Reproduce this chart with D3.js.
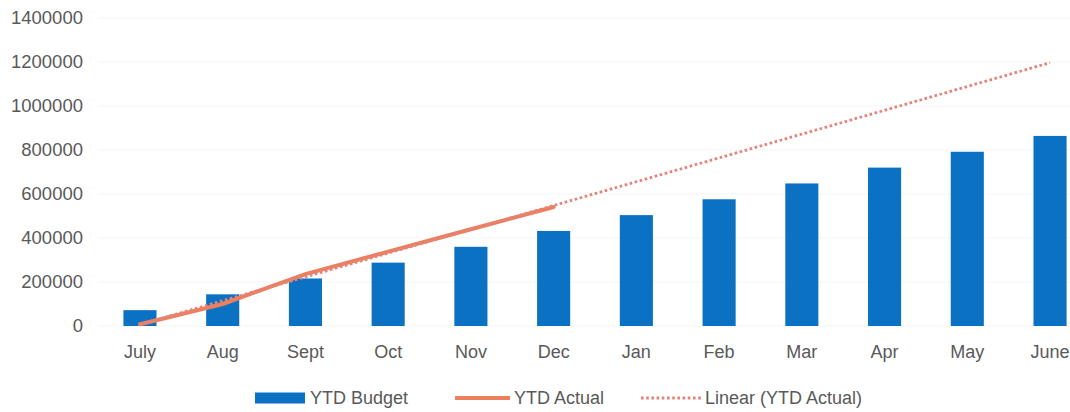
<!DOCTYPE html>
<html>
<head>
<meta charset="utf-8">
<script src="https://cdn.jsdelivr.net/npm/d3@7"></script>
<style>
  html, body { margin: 0; padding: 0; background: #ffffff; }
  svg { display: block; }
  text { font-family: "Liberation Sans", Arial, sans-serif; fill: #595959; }
</style>
</head>
<body>
<svg id="chart" width="1070" height="412"></svg>
<script>
// Month categories (financial year July–June)
const months = ["July", "Aug", "Sept", "Oct", "Nov", "Dec", "Jan", "Feb", "Mar", "Apr", "May", "June"];

// Cumulative budget for each month
const ytdBudget = [72000, 144000, 216000, 288000, 360000, 432000, 504000, 576000, 648000, 720000, 792000, 864000];

// Cumulative actuals recorded so far (July–Dec)
const ytdActual = [8000, 100000, 236000, 338000, 440000, 541000];

// Value axis ticks
const yTicks = [0, 200000, 400000, 600000, 800000, 1000000, 1200000, 1400000];

const legendLabels = ["YTD Budget", "YTD Actual", "Linear (YTD Actual)"];

const colors = { budget: "#0a71c3", actual: "#eb7f5e", trend: "#e5837a" };

const svg = d3.select("#chart");

const x = d3.scaleBand()
  .domain(months)
  .range([98.6, 1091.4])
  .paddingInner(0.6)
  .paddingOuter(0.3);

const y = d3.scaleLinear()
  .domain([0, 1400000])
  .range([326, 18]);

const cx = m => x(m) + x.bandwidth() / 2;

// Horizontal gridlines (very faint)
svg.append("g")
  .selectAll("line")
  .data(yTicks)
  .join("line")
  .attr("x1", 98)
  .attr("x2", 1070)
  .attr("y1", d => y(d))
  .attr("y2", d => y(d))
  .attr("stroke", "#f5f5f5")
  .attr("stroke-width", 1);

// Value axis labels
const yAxis = d3.axisLeft(y).tickValues(yTicks).tickSize(0).tickPadding(0).tickFormat(d3.format("d"));
svg.append("g")
  .attr("transform", "translate(83,0)")
  .call(yAxis)
  .call(g => g.select(".domain").remove())
  .call(g => g.selectAll("text")
    .attr("font-family", "Liberation Sans, Arial, sans-serif")
    .attr("font-size", 18.5)
    .attr("fill", "#595959"));

// Category axis labels
const xAxis = d3.axisBottom(x).tickSize(0).tickPadding(0);
svg.append("g")
  .attr("transform", "translate(0,345)")
  .call(xAxis)
  .call(g => g.select(".domain").remove())
  .call(g => g.selectAll("text")
    .attr("font-family", "Liberation Sans, Arial, sans-serif")
    .attr("font-size", 18)
    .attr("fill", "#595959"));

// Budget bars
svg.append("g")
  .selectAll("rect")
  .data(months.map((m, i) => ({ m, v: ytdBudget[i] })))
  .join("rect")
  .attr("x", d => x(d.m))
  .attr("width", x.bandwidth())
  .attr("y", d => y(d.v))
  .attr("height", d => y(0) - y(d.v))
  .attr("fill", colors.budget);

// Actual line
const actualPts = ytdActual.map((v, i) => [cx(months[i]), y(v)]);
svg.append("path")
  .attr("d", d3.line()(actualPts))
  .attr("fill", "none")
  .attr("stroke", colors.actual)
  .attr("stroke-width", 4)
  .attr("stroke-linejoin", "round")
  .attr("stroke-linecap", "round");

// Least-squares linear trend of the actuals, projected across the year
const n = ytdActual.length;
const xs = d3.range(1, n + 1);
const mx = d3.mean(xs), my = d3.mean(ytdActual);
const slope = d3.sum(xs, (xi, i) => (xi - mx) * (ytdActual[i] - my)) / d3.sum(xs, xi => (xi - mx) ** 2);
const intercept = my - slope * mx;
const trendPts = [
  [cx(months[0]), y(intercept + slope * 1)],
  [cx(months[months.length - 1]), y(intercept + slope * months.length)]
];
svg.append("path")
  .attr("d", d3.line()(trendPts))
  .attr("fill", "none")
  .attr("stroke", colors.trend)
  .attr("stroke-width", 2.8)
  .attr("stroke-dasharray", "2.6 2.6");

// Legend
const legend = svg.append("g").attr("font-size", 18);
const ly = 398;
legend.append("rect")
  .attr("x", 255).attr("y", ly - 5.5).attr("width", 50).attr("height", 11)
  .attr("fill", colors.budget);
legend.append("text").attr("x", 310).attr("y", ly).attr("dy", "0.35em").text(legendLabels[0]);

legend.append("line")
  .attr("x1", 455).attr("x2", 510).attr("y1", ly).attr("y2", ly)
  .attr("stroke", colors.actual).attr("stroke-width", 4);
legend.append("text").attr("x", 514).attr("y", ly).attr("dy", "0.35em").text(legendLabels[1]);

legend.append("line")
  .attr("x1", 641).attr("x2", 701).attr("y1", ly).attr("y2", ly)
  .attr("stroke", colors.trend).attr("stroke-width", 2.8)
  .attr("stroke-dasharray", "2.6 2.6");
legend.append("text").attr("x", 705).attr("y", ly).attr("dy", "0.35em").text(legendLabels[2]);
</script>
</body>
</html>
